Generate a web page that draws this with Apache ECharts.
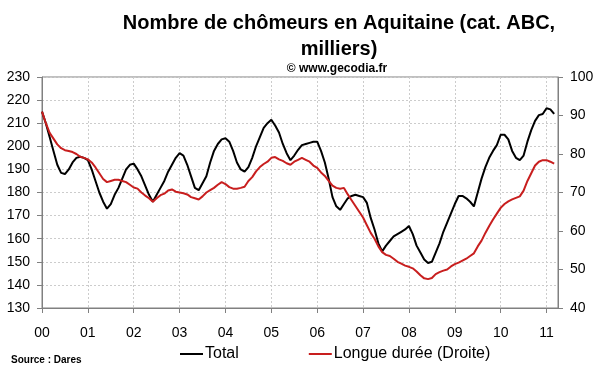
<!DOCTYPE html>
<html>
<head>
<meta charset="utf-8">
<script src="https://cdn.jsdelivr.net/npm/echarts@6/dist/echarts.min.js"></script>
<style>
html,body{margin:0;padding:0;background:#fff;}
#chart{width:600px;height:372px;}
</style>
</head>
<body>
<div id="chart"></div>
<script>
// Monthly data, Jan 2000 .. Mar 2011 (thousands)
var startYear = 2000;
var nMonths = 136; // axis spans Jan 2000 .. Apr 2011
var yearLabels = ['00','01','02','03','04','05','06','07','08','09','10','11'];

var total = [
215,210,204,198,192,188.5,188,190,193,195,195.5,195,
194,190,185,180,176,173,175,179,182,186,190,192,
192.5,190,187,183,179,176,179,182,185,189,192,195,
197,196,192,187,182,181,184,187,193,198,201,203,
203.5,202,198,193,190,189,191,195,200,204,208,210,
211.5,209,206,201,197,194,196,198.5,200.5,201,201.5,202,
202,198,193,186,178,174,172.5,175,177.5,178.5,179,178.5,
178,175.5,169,164,158,154.5,157,159,161,162,163,164,
165.5,162,157,154,151,149.5,150,154,158,163,167,171,
175,178.5,178.5,177.5,176,174,180,186,191,195,198,200.5,
205,205,203,198,195,194,196,202,207,211,213.5,214,
216.5,216,214
];

var longueDuree = [
91,88,85.5,84,82.5,81.5,81,80.8,80.5,80,79.3,79,
78.6,77.8,76.5,75,73.5,72.7,73,73.3,73.3,73,72.7,72,
71.3,71,70,69.2,68.5,67.6,68.5,69.3,69.7,70.5,70.8,70.2,
70,69.8,69.5,68.8,68.5,68.2,69,70,70.6,71.2,72,72.7,
72.2,71.4,71,71,71.2,71.5,73,74,75.5,76.6,77.4,78,
79,79.2,78.6,78.2,77.6,77.2,78,78.5,79,78.5,78,77,
76.4,75.2,74.3,73,71.8,71.2,71,71.2,69.5,68,66.5,65,
63.5,61.5,59.5,58,56,54.5,53.8,53.5,52.8,52,51.5,51,
50.7,50.3,49.5,48.5,47.7,47.5,47.8,48.8,49.3,49.7,50,50.8,
51.4,51.8,52.3,52.8,53.5,54.2,56,57.5,59.5,61.3,63,64.5,
66,67,67.7,68.2,68.6,69,70.5,73,75,77,78,78.4,
78.4,78,77.5
];

var months = [];
for (var i = 0; i < nMonths; i++) {
  var y = startYear + Math.floor(i / 12);
  var m = i % 12 + 1;
  months.push(y + '-' + (m < 10 ? '0' + m : m));
}

var chart = echarts.init(document.getElementById('chart'), null, {renderer: 'canvas'});
var FONT = '"Liberation Sans", Arial, sans-serif';
var isYear = function (idx) { return idx % 12 === 0; };

chart.setOption({
  animation: false,
  backgroundColor: '#ffffff',
  textStyle: {fontFamily: FONT},
  title: [
    {
      text: 'Nombre de chômeurs en Aquitaine (cat. ABC,\nmilliers)',
      left: 334, top: 5, textAlign: 'center',
      textStyle: {fontFamily: FONT, fontSize: 20, fontWeight: 'bold', color: '#000', lineHeight: 26}
    },
    {
      text: '© www.gecodia.fr',
      left: 332, top: 58, textAlign: 'center',
      textStyle: {fontFamily: FONT, fontSize: 12, fontWeight: 'bold', color: '#000'}
    },
    {
      text: 'Source : Dares',
      left: 6, top: 350,
      textStyle: {fontFamily: FONT, fontSize: 10, fontWeight: 'bold', color: '#000'}
    }
  ],
  legend: {
    left: 175, top: 341,
    itemGap: 70,
    itemWidth: 23, itemHeight: 2,
    icon: 'rect',
    textStyle: {fontFamily: FONT, fontSize: 16, color: '#000', padding: [0, 0, 0, -3]},
    data: ['Total', 'Longue durée (Droite)']
  },
  grid: {
    left: 42, right: 42, top: 77, bottom: 64,
    show: true, borderColor: '#808080', borderWidth: 1, backgroundColor: 'transparent'
  },
  xAxis: {
    type: 'category',
    data: months,
    boundaryGap: false,
    axisLine: {lineStyle: {color: '#808080', width: 1}},
    axisTick: {interval: isYear, length: 5, lineStyle: {color: '#808080'}},
    axisLabel: {
      interval: isYear, margin: 18, fontSize: 14, color: '#000', fontFamily: FONT,
      formatter: function (v, idx) { return yearLabels[Math.floor(idx / 12)]; }
    },
    splitLine: {show: true, interval: isYear, lineStyle: {color: '#cccccc', type: [2, 2], width: 1}}
  },
  yAxis: [
    {
      type: 'value', min: 130, max: 230, interval: 10,
      axisLine: {show: true, lineStyle: {color: '#808080'}},
      axisTick: {show: true, length: 5, lineStyle: {color: '#808080'}},
      axisLabel: {fontSize: 14, color: '#000', margin: 12, fontFamily: FONT},
      splitLine: {show: true, lineStyle: {color: '#cccccc', type: [2, 2], width: 1}}
    },
    {
      type: 'value', min: 40, max: 100, interval: 10,
      position: 'right',
      axisLine: {show: true, lineStyle: {color: '#808080'}},
      axisTick: {show: true, length: 5, lineStyle: {color: '#808080'}},
      axisLabel: {fontSize: 14, color: '#000', margin: 12, fontFamily: FONT},
      splitLine: {show: false}
    }
  ],
  series: [
    {
      name: 'Total', type: 'line', yAxisIndex: 0,
      data: total, showSymbol: false, symbol: 'none',
      lineStyle: {color: '#000000', width: 2},
      itemStyle: {color: '#000000'}
    },
    {
      name: 'Longue durée (Droite)', type: 'line', yAxisIndex: 1,
      data: longueDuree, showSymbol: false, symbol: 'none',
      lineStyle: {color: '#c81e1e', width: 2},
      itemStyle: {color: '#c81e1e'}
    }
  ]
});
</script>
</body>
</html>
